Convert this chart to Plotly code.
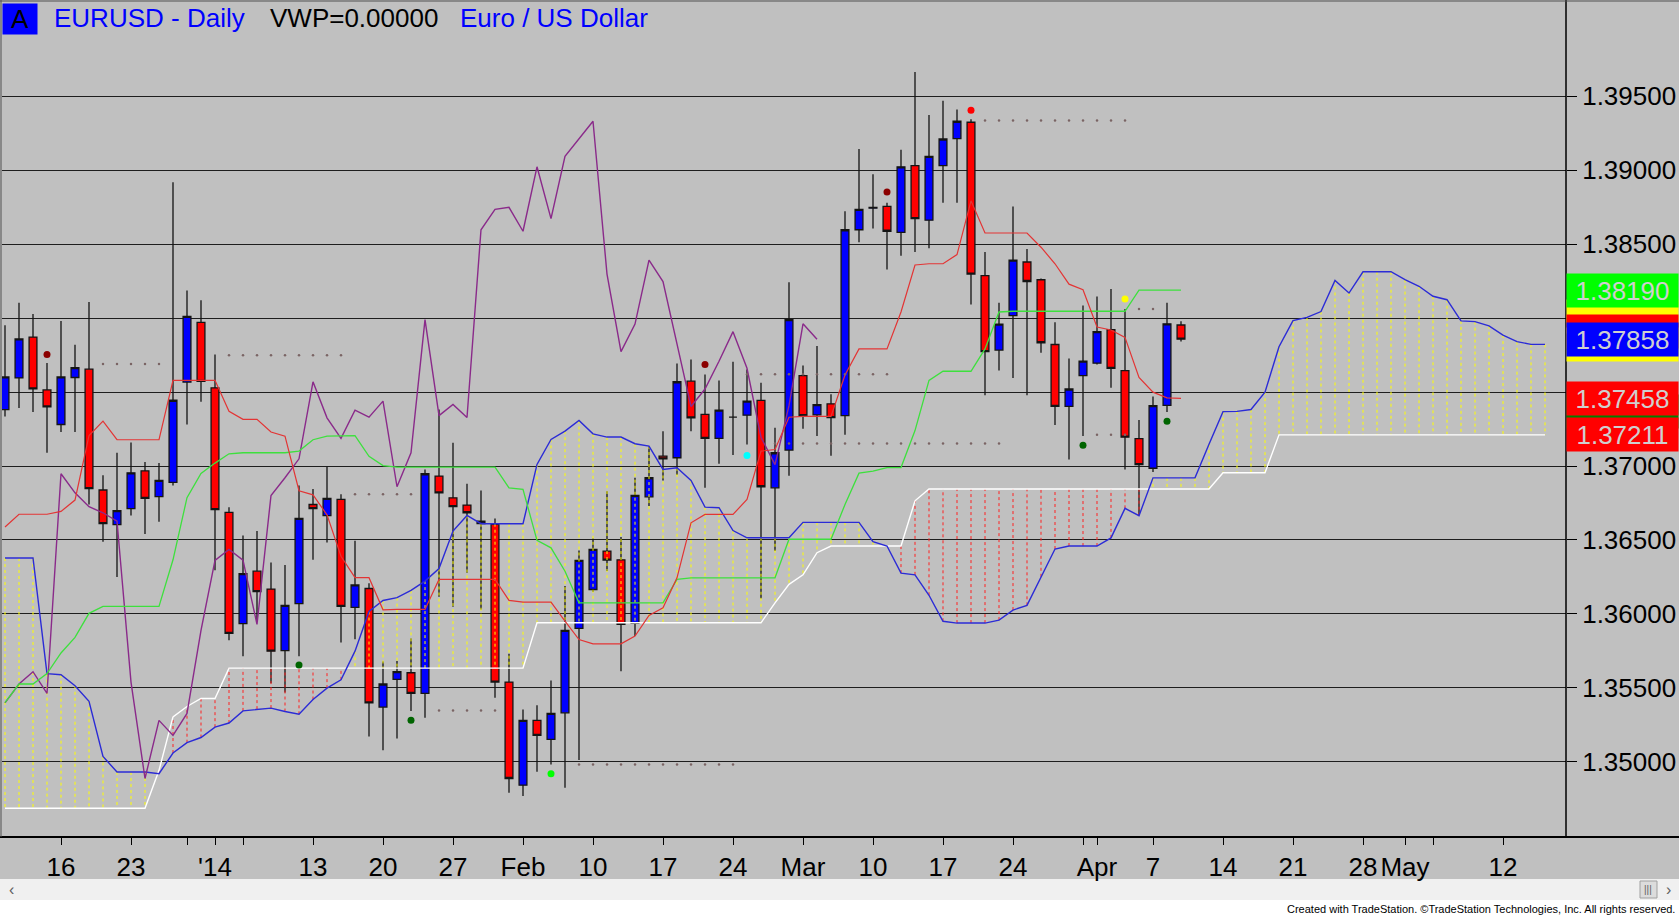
import pandas as pd
import plotly.graph_objects as go

FONT = "Liberation Sans, Arial, sans-serif"

# forex trading days on the chart (Christmas and New Year's Day are not traded)
dates = [d.strftime("%Y-%m-%d") for d in pd.bdate_range("2013-12-10", "2014-05-15")
         if d.strftime("%m-%d") not in ("12-25", "01-01")]
n_bars = 85
bar_dates = dates[:n_bars]

# daily EURUSD candles, 10 Dec 2013 .. 9 Apr 2014
opens = [1.37381, 1.37596, 1.37872, 1.37515, 1.37281, 1.37599, 1.37655, 1.36838, 1.36604, 1.36712,
         1.36968, 1.36793, 1.36890, 1.37568, 1.37972, 1.37529, 1.36686, 1.35934, 1.36289, 1.36168,
         1.35752, 1.36070, 1.36740, 1.36665, 1.36775, 1.36044, 1.36172, 1.35370, 1.35557, 1.35602,
         1.35462, 1.36932, 1.36785, 1.36736, 1.36610, 1.36605, 1.35539, 1.34842, 1.35280, 1.35151,
         1.35331, 1.35902, 1.36165, 1.36425, 1.36366, 1.35936, 1.36792, 1.37067, 1.37056, 1.37574,
         1.37349, 1.37187, 1.37331, 1.37344, 1.37444, 1.36853, 1.37108, 1.37611, 1.37346, 1.37421,
         1.37341, 1.38598, 1.38744, 1.38756, 1.38581, 1.39032, 1.38663, 1.39032, 1.39214, 1.39325,
         1.38288, 1.37784, 1.38017, 1.38380, 1.38260, 1.37822, 1.37403, 1.37611, 1.37696, 1.37922,
         1.37646, 1.37185, 1.36985, 1.37411, 1.37954]
highs = [1.37953, 1.38105, 1.38028, 1.37697, 1.37981, 1.37820, 1.38110, 1.36938, 1.37090, 1.37160,
         1.37027, 1.37020, 1.38920, 1.38187, 1.38121, 1.37755, 1.36721, 1.36530, 1.36560, 1.36348,
         1.36331, 1.36868, 1.36845, 1.36996, 1.36810, 1.36495, 1.36208, 1.35678, 1.35681, 1.35834,
         1.36977, 1.37383, 1.37157, 1.36880, 1.36835, 1.36646, 1.35730, 1.35354, 1.35383, 1.35550,
         1.36188, 1.36429, 1.36510, 1.36830, 1.36520, 1.36921, 1.37135, 1.37236, 1.37694, 1.37721,
         1.37619, 1.37579, 1.37705, 1.37653, 1.37563, 1.37259, 1.38243, 1.37680, 1.37812, 1.37486,
         1.38723, 1.39144, 1.38974, 1.38781, 1.39139, 1.39665, 1.39375, 1.39470, 1.39412, 1.39345,
         1.38448, 1.38105, 1.38756, 1.38468, 1.38268, 1.37972, 1.37727, 1.38085, 1.38147, 1.38197,
         1.38062, 1.37311, 1.37471, 1.38105, 1.37980]
lows = [1.37335, 1.37393, 1.37365, 1.37090, 1.37230, 1.37230, 1.36740, 1.36488, 1.36250, 1.36665,
        1.36541, 1.36623, 1.36868, 1.37281, 1.37435, 1.36296, 1.35822, 1.35713, 1.35946, 1.35531,
        1.35468, 1.35713, 1.36366, 1.36483, 1.35806, 1.35829, 1.35171, 1.35078, 1.35158, 1.35343,
        1.35298, 1.36116, 1.36049, 1.36278, 1.36030, 1.35433, 1.34790, 1.34768, 1.34932, 1.34982,
        1.34824, 1.35012, 1.36150, 1.36290, 1.35613, 1.35850, 1.36729, 1.36903, 1.36939, 1.37236,
        1.36853, 1.37015, 1.37074, 1.37146, 1.36105, 1.36425, 1.36935, 1.37253, 1.37203, 1.37070,
        1.37211, 1.38513, 1.38606, 1.38330, 1.38423, 1.38448, 1.38473, 1.38781, 1.38781, 1.38092,
        1.37478, 1.37646, 1.37596, 1.37478, 1.37767, 1.37278, 1.37045, 1.37203, 1.37686, 1.37529,
        1.36977, 1.36669, 1.36960, 1.37366, 1.37842]
closes = [1.37603, 1.37860, 1.37522, 1.37400, 1.37603, 1.37666, 1.36847, 1.36611, 1.36698, 1.36954,
          1.36782, 1.36903, 1.37445, 1.38012, 1.37573, 1.36705, 1.35869, 1.36273, 1.36151, 1.35748,
          1.36058, 1.36646, 1.36712, 1.36782, 1.36051, 1.36196, 1.35398, 1.35526, 1.35609, 1.35462,
          1.36948, 1.36819, 1.36725, 1.36684, 1.36628, 1.35539, 1.34887, 1.35280, 1.35178, 1.35327,
          1.35888, 1.36362, 1.36436, 1.36364, 1.35929, 1.36801, 1.36921, 1.37049, 1.37570, 1.37326,
          1.37187, 1.37378, 1.37331, 1.37439, 1.36860, 1.37090, 1.37990, 1.37341, 1.37416, 1.37328,
          1.38598, 1.38736, 1.38750, 1.38588, 1.39024, 1.38673, 1.39094, 1.39212, 1.39332, 1.38298,
          1.37774, 1.37960, 1.38393, 1.38248, 1.37834, 1.37403, 1.37521, 1.37709, 1.37909, 1.37661,
          1.37195, 1.37010, 1.37408, 1.37962, 1.37858]

# Ichimoku lines as plotted
tenkan = [1.36588, 1.36674, 1.36674, 1.36674, 1.36693, 1.36770, 1.37206, 1.37304, 1.37178, 1.37178,
          1.37178, 1.37178, 1.37580, 1.37580, 1.37580, 1.37580, 1.37370, 1.37316, 1.37316, 1.37230,
          1.37202, 1.36833, 1.36805, 1.36670, 1.36390, 1.36245, 1.36245, 1.36028, 1.36030, 1.36030,
          1.36030, 1.36233, 1.36233, 1.36233, 1.36233, 1.36233, 1.36091, 1.36080, 1.36080, 1.36080,
          1.35951, 1.35827, 1.35798, 1.35798, 1.35798, 1.35850, 1.35990, 1.36041, 1.36244, 1.36616,
          1.36673, 1.36673, 1.36673, 1.36774, 1.37101, 1.37112, 1.37330, 1.37336, 1.37336, 1.37336,
          1.37616, 1.37792, 1.37792, 1.37792, 1.38042, 1.38360, 1.38368, 1.38368, 1.38430, 1.38794,
          1.38576, 1.38576, 1.38576, 1.38576, 1.38480, 1.38368, 1.38230, 1.38192, 1.37940, 1.37920,
          1.37870, 1.37600, 1.37500, 1.37461, 1.37458]
kijun = [1.35400, 1.35526, 1.35526, 1.35596, 1.35736, 1.35841, 1.36004, 1.36051, 1.36051, 1.36051,
         1.36051, 1.36051, 1.36366, 1.36786, 1.36950, 1.37020, 1.37083, 1.37090, 1.37090, 1.37090,
         1.37090, 1.37101, 1.37178, 1.37202, 1.37206, 1.37206, 1.37066, 1.37003, 1.36993, 1.36993,
         1.36993, 1.36993, 1.36993, 1.36993, 1.36993, 1.36993, 1.36853, 1.36842, 1.36497, 1.36447,
         1.36289, 1.36075, 1.36075, 1.36075, 1.36075, 1.36075, 1.36075, 1.36075, 1.36233, 1.36244,
         1.36244, 1.36244, 1.36244, 1.36244, 1.36244, 1.36244, 1.36505, 1.36505, 1.36505, 1.36505,
         1.36740, 1.36952, 1.36965, 1.36990, 1.36990, 1.37240, 1.37579, 1.37641, 1.37641, 1.37641,
         1.37792, 1.38042, 1.38047, 1.38047, 1.38047, 1.38047, 1.38047, 1.38047, 1.38047, 1.38047,
         1.38047, 1.38190, 1.38190, 1.38190, 1.38190]
senkou_a = [1.36378, 1.36378, 1.36378, 1.35596, 1.35589, 1.35514, 1.35409, 1.35036, 1.34931, 1.34931,
            1.34931, 1.34919, 1.35059, 1.35129, 1.35164, 1.35234, 1.35262, 1.35344, 1.35356, 1.35363,
            1.35340, 1.35321, 1.35421, 1.35498, 1.35554, 1.35748, 1.36016, 1.36091, 1.36110, 1.36159,
            1.36222, 1.36307, 1.36560, 1.36666, 1.36610, 1.36610, 1.36610, 1.36610, 1.37011, 1.37180,
            1.37236, 1.37308, 1.37218, 1.37196, 1.37196, 1.37151, 1.37135, 1.36977, 1.36988, 1.36903,
            1.36722, 1.36718, 1.36564, 1.36515, 1.36515, 1.36515, 1.36515, 1.36619, 1.36619, 1.36619,
            1.36619, 1.36619, 1.36489, 1.36459, 1.36276, 1.36264, 1.36126, 1.35950, 1.35938, 1.35938,
            1.35938, 1.35958, 1.36026, 1.36058, 1.36251, 1.36439, 1.36459, 1.36459, 1.36459, 1.36514,
            1.36714, 1.36664, 1.36920, 1.36920, 1.36920, 1.36920, 1.37148, 1.37368, 1.37370, 1.37382,
            1.37500, 1.37807, 1.37984, 1.38005, 1.38045, 1.38255, 1.38170, 1.38314, 1.38314, 1.38314,
            1.38261, 1.38216, 1.38148, 1.38125, 1.37982, 1.37977, 1.37948, 1.37886, 1.37841, 1.37823,
            1.37823]
senkou_b = [1.34686, 1.34686, 1.34686, 1.34686, 1.34686, 1.34686, 1.34686, 1.34686, 1.34686, 1.34686,
            1.34686, 1.34942, 1.35304, 1.35374, 1.35428, 1.35428, 1.35633, 1.35633, 1.35633, 1.35633,
            1.35633, 1.35633, 1.35633, 1.35633, 1.35633, 1.35633, 1.35633, 1.35633, 1.35633, 1.35633,
            1.35633, 1.35633, 1.35633, 1.35633, 1.35633, 1.35633, 1.35633, 1.35633, 1.35940, 1.35940,
            1.35940, 1.35940, 1.35940, 1.35940, 1.35940, 1.35940, 1.35940, 1.35940, 1.35940, 1.35940,
            1.35940, 1.35940, 1.35940, 1.35940, 1.35940, 1.36075, 1.36200, 1.36264, 1.36414, 1.36459,
            1.36459, 1.36459, 1.36459, 1.36459, 1.36459, 1.36765, 1.36845, 1.36845, 1.36845, 1.36845,
            1.36845, 1.36845, 1.36845, 1.36845, 1.36845, 1.36845, 1.36845, 1.36845, 1.36845, 1.36845,
            1.36845, 1.36845, 1.36845, 1.36845, 1.36845, 1.36845, 1.36845, 1.36955, 1.36955, 1.36955,
            1.36955, 1.37211, 1.37211, 1.37211, 1.37211, 1.37211, 1.37211, 1.37211, 1.37211, 1.37211,
            1.37211, 1.37211, 1.37211, 1.37211, 1.37211, 1.37211, 1.37211, 1.37211, 1.37211, 1.37211,
            1.37211]
lag_shift = 26

# ShowMe dots
dot_bars = [3, 21, 29, 39, 50, 53, 63, 69, 77, 80, 83]
dot_prices = [1.37755, 1.35654, 1.35280, 1.34919, 1.37687, 1.37072, 1.38854, 1.39407, 1.37140, 1.38130, 1.37303]
dot_colors = ["#8b0000", "#006400", "#006400", "#00ff00", "#8b0000", "#00ffff",
              "#8b0000", "#ff0000", "#006400", "#ffff00", "#006400"]

# faint dotted levels (first bar, last bar, price)
level_first = [7, 16, 25, 31, 41, 53, 55, 70, 78, 81]
level_last = [11, 24, 29, 35, 52, 63, 71, 80, 80, 82]
level_prices = [1.37690, 1.37750, 1.36810, 1.35347, 1.34982, 1.37620, 1.37153, 1.39337, 1.37211, 1.38062]

# axis ticks
tick_dates = ["2013-12-16", "2013-12-23", "2013-12-30", "2014-01-02", "2014-01-06", "2014-01-13",
              "2014-01-20", "2014-01-27", "2014-02-03", "2014-02-10", "2014-02-17", "2014-02-24",
              "2014-03-03", "2014-03-10", "2014-03-17", "2014-03-24", "2014-03-31", "2014-04-01",
              "2014-04-07", "2014-04-14", "2014-04-21", "2014-04-28", "2014-05-01", "2014-05-05",
              "2014-05-12"]
tick_text = ["16", "23", "", "'14", "", "13", "20", "27", "Feb", "10", "17", "24", "Mar", "10",
             "17", "24", "", "Apr", "7", "14", "21", "28", "May", "", "12"]
price_ticks = [1.350, 1.355, 1.360, 1.365, 1.370, 1.375, 1.380, 1.385, 1.390, 1.395]
# 1.38000 sits completely under the value tags in the reference
price_text = ["1.35000", "1.35500", "1.36000", "1.36500", "1.37000", "1.37500", "",
              "1.38500", "1.39000", "1.39500"]

# last-value tags on the price scale, back to front (the covered ones show only as strips)
tag_values = [1.38010, 1.37910, 1.37823, 1.37858, 1.37372, 1.37211, 1.37458, 1.38190]
tag_colors = ["#ffff00", "#ff0000", "#ffff00", "#0000ff", "#008000", "#ff0000", "#ff0000", "#00ff00"]
tag_shown = [False, False, False, True, False, True, True, True]

fig = go.Figure()

# cloud: dashed verticals between the two spans
for col, up in (("#ffff00", True), ("#ff2020", False)):
    xs, ys = [], []
    for d, a, b in zip(dates, senkou_a, senkou_b):
        if (a >= b) == up:
            xs += [d, d, None]
            ys += [a, b, None]
    fig.add_trace(go.Scatter(x=xs, y=ys, mode="lines", line=dict(color=col, width=1, dash="3px,3px"),
                             hoverinfo="skip", showlegend=False))

fig.add_trace(go.Scatter(x=dates, y=senkou_b, mode="lines", line=dict(color="#ffffff", width=1.4),
                         showlegend=False, hoverinfo="skip"))
fig.add_trace(go.Scatter(x=dates, y=senkou_a, mode="lines", line=dict(color="#2b2bd6", width=1.4),
                         showlegend=False, hoverinfo="skip"))
# lagging span = close shifted back
fig.add_trace(go.Scatter(x=bar_dates[:n_bars - lag_shift], y=closes[lag_shift:], mode="lines",
                         line=dict(color="#8a2a8a", width=1.4), showlegend=False, hoverinfo="skip"))
fig.add_trace(go.Scatter(x=bar_dates, y=kijun, mode="lines", line=dict(color="#3de03d", width=1.3),
                         showlegend=False, hoverinfo="skip"))
fig.add_trace(go.Scatter(x=bar_dates, y=tenkan, mode="lines", line=dict(color="#e33434", width=1.2),
                         showlegend=False, hoverinfo="skip"))

# dotted levels
lx, ly = [], []
for f, l, p in zip(level_first, level_last, level_prices):
    lx += dates[f:l + 1]
    ly += [p] * (l + 1 - f)
fig.add_trace(go.Scatter(x=lx, y=ly, mode="markers", marker=dict(color="#7a6464", size=2.5),
                         showlegend=False, hoverinfo="skip"))

fig.add_trace(go.Candlestick(
    x=bar_dates, open=opens, high=highs, low=lows, close=closes,
    increasing=dict(fillcolor="#0000ff", line=dict(color="#141414", width=1.3)),
    decreasing=dict(fillcolor="#ff0000", line=dict(color="#141414", width=1.3)),
    whiskerwidth=0, showlegend=False, hoverinfo="skip"))

fig.add_trace(go.Scatter(x=[dates[i] for i in dot_bars], y=dot_prices, mode="markers",
                         marker=dict(color=dot_colors, size=7, symbol="circle"),
                         showlegend=False, hoverinfo="skip"))

W, H = 1679, 915
ML, MR, MT, MB = 2, 113, 2, 78
PW, PH = W - ML - MR, H - MT - MB


def px(X):
    return (X - ML) / PW


def py(Y):
    return (H - MB - Y) / PH


annotations = [
    dict(xref="paper", yref="paper", x=px(2), y=py(3), xanchor="left", yanchor="top",
         text="A", bgcolor="#0000ff", width=34, height=30, borderpad=0, showarrow=False,
         font=dict(family=FONT, size=26, color="#000000")),
    dict(xref="paper", yref="paper", x=px(52), y=py(18), xanchor="left", yanchor="middle",
         text="EURUSD - Daily", showarrow=False, font=dict(family=FONT, size=26, color="#0000ff")),
    dict(xref="paper", yref="paper", x=px(268), y=py(18), xanchor="left", yanchor="middle",
         text="VWP=0.00000", showarrow=False, font=dict(family=FONT, size=26, color="#000000")),
    dict(xref="paper", yref="paper", x=px(458), y=py(18), xanchor="left", yanchor="middle",
         text="Euro / US Dollar", showarrow=False, font=dict(family=FONT, size=26, color="#0000ff")),
    dict(xref="paper", yref="paper", x=px(1677), y=py(909), xanchor="right", yanchor="middle",
         text="Created with TradeStation. ©TradeStation Technologies, Inc. All rights reserved.",
         showarrow=False, font=dict(family="Liberation Sans Narrow, " + FONT, size=11, color="#000000")),
    dict(xref="paper", yref="paper", x=px(11), y=py(889), xanchor="center", yanchor="middle",
         text="‹", showarrow=False, font=dict(family=FONT, size=16, color="#606060")),
    dict(xref="paper", yref="paper", x=px(1668), y=py(889), xanchor="center", yanchor="middle",
         text="›", showarrow=False, font=dict(family=FONT, size=16, color="#606060")),
    dict(xref="paper", yref="paper", x=px(1648), y=py(889), xanchor="center", yanchor="middle",
         text="|||", showarrow=False, font=dict(family=FONT, size=10, color="#606060")),
]
for v, c, shown in zip(tag_values, tag_colors, tag_shown):
    annotations.append(dict(xref="paper", x=1, xanchor="left", yref="y", y=v, yanchor="middle",
                            text=f"{v:.5f}" if shown else " ", bgcolor=c, width=111, height=33,
                            borderpad=0, align="center", valign="middle", showarrow=False,
                            font=dict(family=FONT, size=26, color="#cfcfcf")))

shapes = [
    # scroll bar and footer strip
    dict(type="rect", xref="paper", yref="paper", x0=px(0), x1=px(W), y0=py(900), y1=py(879),
         fillcolor="#f0f0f0", line=dict(width=0), layer="below"),
    dict(type="rect", xref="paper", yref="paper", x0=px(0), x1=px(W), y0=py(H), y1=py(900),
         fillcolor="#ffffff", line=dict(width=0), layer="below"),
    dict(type="rect", xref="paper", yref="paper", x0=px(1640), x1=px(1657), y0=py(898), y1=py(881),
         fillcolor="#dcdcdc", line=dict(color="#a0a0a0", width=1), layer="below"),
    # frame lines
    dict(type="line", xref="paper", yref="paper", x0=px(0), x1=px(W), y0=0, y1=0,
         line=dict(color="#000000", width=2)),
    dict(type="line", xref="paper", yref="paper", x0=1, x1=1, y0=0, y1=py(0),
         line=dict(color="#000000", width=1.5)),
    dict(type="line", xref="paper", yref="paper", x0=px(0), x1=px(W), y0=py(1), y1=py(1),
         line=dict(color="#505050", width=1)),
    dict(type="line", xref="paper", yref="paper", x0=px(1), x1=px(1), y0=0, y1=py(0),
         line=dict(color="#505050", width=1)),
]

fig.update_layout(
    width=W, height=H,
    margin=dict(l=ML, r=MR, t=MT, b=MB),
    paper_bgcolor="#c0c0c0", plot_bgcolor="#c0c0c0",
    boxgap=0.2, boxgroupgap=0.3,
    font=dict(family=FONT, size=26, color="#000000"),
    annotations=annotations, shapes=shapes,
    xaxis=dict(type="category", categoryorder="array", categoryarray=dates,
               range=[-0.214, 111.5], rangeslider=dict(visible=False),
               tickmode="array", tickvals=tick_dates, ticktext=tick_text, tickangle=0,
               ticks="outside", ticklen=7, tickcolor="#000000", showgrid=False,
               tickfont=dict(family=FONT, size=26, color="#000000"), showline=False),
    yaxis=dict(side="right", range=[1.344912, 1.401384], tickmode="array", tickvals=price_ticks,
               ticktext=price_text, ticks="outside", ticklen=10, tickcolor="#000000",
               showgrid=True, gridcolor="#1e1e1e", gridwidth=1, zeroline=False, showline=False,
               tickfont=dict(family=FONT, size=26, color="#000000")),
)

fig.write_html("out.html", config={"displayModeBar": False},
               post_script="document.body.style.margin='0';")
